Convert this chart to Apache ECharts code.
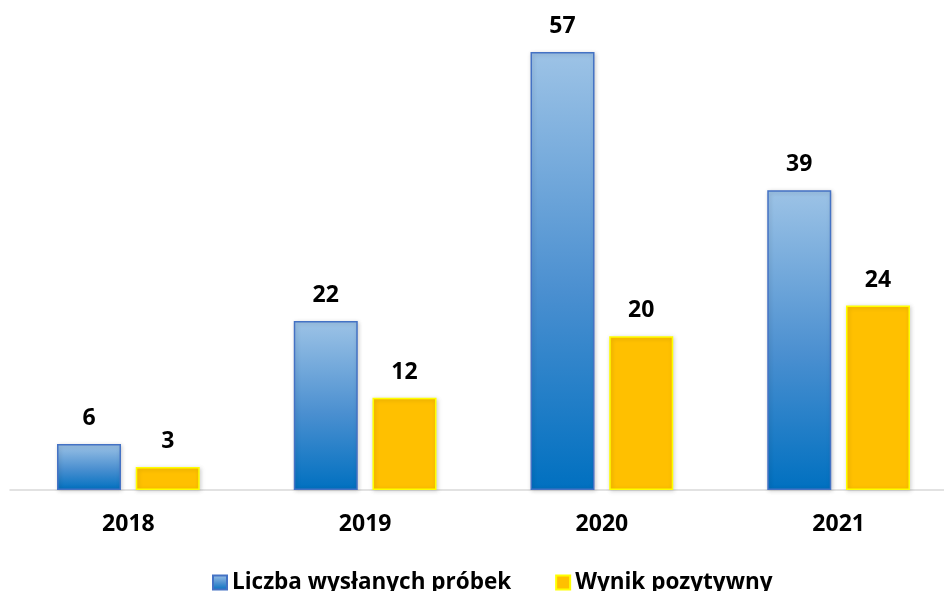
<!DOCTYPE html>
<html>
<head>
<meta charset="utf-8">
<script src="https://cdn.jsdelivr.net/npm/echarts@6/dist/echarts.min.js"></script>
<style>
  html, body { margin: 0; padding: 0; background: #fff; overflow: hidden; }
  #chart { width: 957px; height: 591px; }
</style>
</head>
<body>
<div id="chart"></div>
<script>
// Years on the category axis
const years = ['2018', '2019', '2020', '2021'];
// Number of samples sent per year
const samplesSent = [6, 22, 57, 39];
// Positive results per year
const positiveResults = [3, 12, 20, 24];
const seriesNames = ['Liczba wysłanych próbek', 'Wynik pozytywny'];

const FONT = '"Open Sans", "DejaVu Sans", sans-serif';

const chart = echarts.init(document.getElementById('chart'), null, { renderer: 'canvas' });

const labelStyle = {
  show: true,
  position: 'top',
  distance: 14,
  color: '#000',
  fontFamily: FONT,
  fontWeight: 'bold',
  fontSize: 23
};

chart.setOption({
  animation: false,
  backgroundColor: '#ffffff',
  grid: { left: 10, right: 0, top: 29, bottom: 101, containLabel: false },
  xAxis: {
    type: 'category',
    data: years,
    axisLine: { show: true, lineStyle: { color: '#d9d9d9', width: 1.5 } },
    axisTick: { show: false },
    axisLabel: {
      color: '#000',
      fontFamily: FONT,
      fontWeight: 'bold',
      fontSize: 23,
      margin: 23
    }
  },
  yAxis: {
    type: 'value',
    min: 0,
    max: 60,
    show: false,
    splitLine: { show: false }
  },
  legend: {
    top: 566,
    left: 207,
    itemWidth: 14,
    itemHeight: 14,
    itemGap: 44,
    icon: 'rect',
    textStyle: {
      color: '#000',
      fontFamily: FONT,
      fontWeight: 'bold',
      fontSize: 22.5
    },
    data: seriesNames
  },
  series: [
    {
      name: seriesNames[0],
      type: 'bar',
      data: samplesSent,
      barWidth: 64,
      barGap: '23%',
      itemStyle: {
        color: new echarts.graphic.LinearGradient(0, 0, 0, 1, [
          { offset: 0, color: '#9dc3e6' },
          { offset: 0.55, color: '#4a8fd0' },
          { offset: 1, color: '#0070c0' }
        ]),
        borderColor: '#4472c4',
        borderWidth: 1.5,
        shadowColor: 'rgba(0,0,0,0.18)',
        shadowBlur: 4,
        shadowOffsetX: 1,
        shadowOffsetY: 1
      },
      label: labelStyle
    },
    {
      name: seriesNames[1],
      type: 'bar',
      data: positiveResults,
      barWidth: 64,
      itemStyle: {
        color: '#ffc000',
        borderColor: '#ffff00',
        borderWidth: 1.5,
        shadowColor: 'rgba(0,0,0,0.18)',
        shadowBlur: 4,
        shadowOffsetX: 1,
        shadowOffsetY: 1
      },
      label: labelStyle
    }
  ]
});
</script>
</body>
</html>
